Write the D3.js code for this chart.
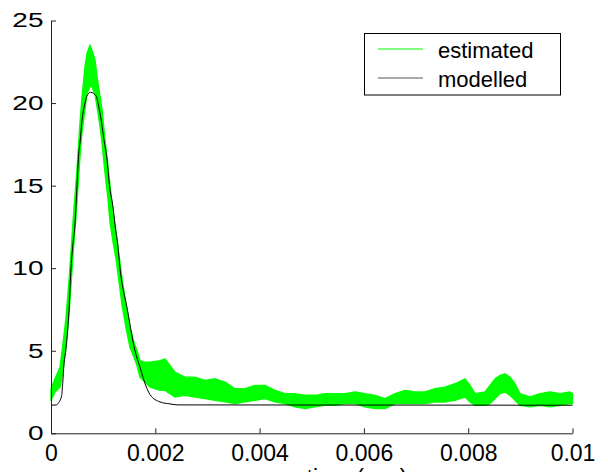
<!DOCTYPE html>
<html>
<head>
<meta charset="utf-8">
<script src="https://cdn.jsdelivr.net/npm/d3@7/dist/d3.min.js"></script>
<style>
  html, body { margin: 0; padding: 0; background: #fff; }
  svg { display: block; font-family: Arial, "Liberation Sans", sans-serif; }
</style>
</head>
<body>
<svg id="chart" width="608" height="472"></svg>
<script>
// ---- data (time in seconds) ----
const xTicks = [0, 0.002, 0.004, 0.006, 0.008, 0.01];
const xTickLabels = ["0", "0.002", "0.004", "0.006", "0.008", "0.01"];
const yTicks = [0, 5, 10, 15, 20, 25];
const yTickLabels = ["0", "5", "10", "15", "20", "25"];
const seriesNames = ["estimated", "modelled"];
const xLabel = "time (sec)";

const modelledTime = [0, 0.000109, 0.000134, 0.000205, 0.000224, 0.000249, 0.000282, 0.000345, 0.000384,
  0.000428, 0.000451, 0.000499, 0.000527, 0.000562, 0.000589, 0.000652, 0.000685, 0.000757,
  0.000872, 0.000901, 0.000972, 0.001016, 0.001068, 0.001122, 0.001189, 0.001241, 0.001271,
  0.001323, 0.001467, 0.001611, 0.001707, 0.001822, 0.001898, 0.00209, 0.002282, 0.002435, 0.01];
const modelledValue = [1.70, 1.72, 1.8, 2.3, 3.0, 4.2, 5.0, 7.45, 10.0,
  11.67, 12.3, 15.0, 16.75, 17.76, 18.77, 20.0, 20.4, 20.65,
  20.4, 20.0, 18.77, 17.76, 16.75, 15.0, 13.7, 12.3, 11.67,
  10.0, 7.45, 5.0, 4.0, 2.85, 2.35, 1.9, 1.78, 1.72, 1.70];

const estTime = [0, 0.000077, 0.000173, 0.00023, 0.000288, 0.000345, 0.000384, 0.000422, 0.000499,
  0.000556, 0.000594, 0.000652, 0.00069, 0.000748, 0.000786, 0.000844, 0.000882, 0.00094,
  0.000978, 0.001035, 0.001093, 0.001131, 0.001189, 0.001246, 0.001304, 0.001361, 0.001438,
  0.001515, 0.001592, 0.001649, 0.001706, 0.001802, 0.001898, 0.00209, 0.002186, 0.002378,
  0.002569, 0.002761, 0.002953, 0.003145, 0.003337, 0.003528, 0.00372, 0.003912, 0.004104,
  0.004295, 0.004487, 0.004679, 0.004871, 0.005062, 0.005254, 0.005446, 0.005638, 0.005829,
  0.006021, 0.006213, 0.006405, 0.006596, 0.006788, 0.00698, 0.007172, 0.007363, 0.007555,
  0.007747, 0.007939, 0.008035, 0.00813, 0.008322, 0.008418, 0.008514, 0.00861, 0.008706,
  0.008802, 0.008897, 0.008993, 0.009185, 0.009377, 0.009569, 0.00976, 0.009952, 0.01];
const estLow = [2.0, 2.5, 2.8, 3.8, 5.2, 7.2, 9.0, 10.8, 14.0,
  16.8, 18.2, 19.6, 20.6, 21.0, 21.0, 20.5, 19.8, 18.6,
  17.6, 15.8, 14.2, 12.8, 11.6, 10.6, 9.2, 7.8, 6.4,
  5.2, 4.6, 4.1, 3.4, 3.1, 2.8, 2.6, 2.6, 2.2,
  2.3, 2.2, 2.1, 2.0, 1.9, 1.8, 1.9, 2.0, 2.1,
  1.9, 1.8, 1.6, 1.5, 1.6, 1.7, 1.7, 1.8, 1.8,
  1.6, 1.5, 1.5, 1.8, 1.8, 1.8, 1.8, 1.9, 1.9,
  2.0, 2.2, 1.9, 1.7, 1.7, 1.8, 2.1, 2.4, 2.5,
  2.3, 2.0, 1.7, 1.6, 1.7, 1.6, 1.7, 1.8, 1.8];
const estHigh = [2.7, 3.3, 4.0, 5.4, 7.0, 9.2, 11.0, 12.8, 16.0,
  18.8, 20.3, 22.2, 23.0, 23.5, 23.2, 22.6, 21.6, 20.4,
  19.6, 17.8, 16.2, 15.0, 13.4, 12.2, 10.8, 9.4, 7.8,
  6.4, 5.5, 5.0, 4.4, 4.3, 4.3, 4.4, 4.5, 3.7,
  3.4, 3.4, 3.2, 3.3, 3.1, 2.7, 2.7, 2.9, 2.9,
  2.6, 2.4, 2.4, 2.3, 2.3, 2.4, 2.4, 2.4, 2.5,
  2.4, 2.3, 2.1, 2.4, 2.6, 2.5, 2.5, 2.7, 2.8,
  3.0, 3.3, 2.9, 2.4, 2.5, 2.9, 3.3, 3.5, 3.6,
  3.4, 3.0, 2.4, 2.2, 2.4, 2.5, 2.4, 2.5, 2.4];

// ---- drawing ----
const svg = d3.select("#chart");
const x = d3.scaleLinear().domain([0, 0.01]).range([51, 572.5]);
const y = d3.scaleLinear().domain([0, 25]).range([433.3, 20.5]);
const GREEN = "#00ff00";

// estimated (noise band)
const estData = estTime.map((t, i) => ({ t, lo: estLow[i], hi: estHigh[i] }));
const area = d3.area().x(d => x(d.t)).y0(d => y(d.lo)).y1(d => y(d.hi));
svg.append("path").datum(estData)
  .attr("d", area)
  .attr("fill", GREEN)
  .attr("stroke", GREEN)
  .attr("stroke-width", 1.4)
  .attr("stroke-linejoin", "round");

// modelled
const modData = modelledTime.map((t, i) => ({ t, v: modelledValue[i] }));
const line = d3.line().x(d => x(d.t)).y(d => y(d.v)).curve(d3.curveMonotoneX);
svg.append("path").datum(modData)
  .attr("d", line)
  .attr("fill", "none")
  .attr("stroke", "#000")
  .attr("stroke-width", 1);

// axes
const xAxis = d3.axisBottom(x).tickValues(xTicks)
  .tickFormat((d, i) => xTickLabels[i]).tickSizeInner(-5).tickSizeOuter(0).tickPadding(11.5);
const gx = svg.append("g").attr("transform", "translate(0,433.3)").call(xAxis);
gx.selectAll("text").attr("font-size", 23).attr("fill", "#000")
  .attr("font-family", "Arial, 'Liberation Sans', sans-serif");
gx.select(".domain").attr("stroke", "#222");
gx.selectAll(".tick line").attr("stroke", "#222");

const yAxis = d3.axisLeft(y).tickValues(yTicks)
  .tickFormat((d, i) => yTickLabels[i]).tickSizeInner(-5).tickSizeOuter(0).tickPadding(0);
const gy = svg.append("g").attr("transform", "translate(51,0)").call(yAxis);
gy.selectAll("text").attr("font-size", 20).attr("fill", "#000")
  .attr("font-family", "Arial, 'Liberation Sans', sans-serif")
  .attr("x", -7.5 / 1.4).attr("transform", "scale(1.4,1)");
gy.select(".domain").attr("stroke", "#222");
gy.selectAll(".tick line").attr("stroke", "#222");

// x label (partly clipped at the bottom edge, as in the reference)
svg.append("text").attr("x", 357).attr("y", 486).attr("text-anchor", "middle")
  .attr("font-size", 23).text(xLabel);

// legend
const lg = svg.append("g");
lg.append("rect").attr("x", 364.5).attr("y", 33.5).attr("width", 196).attr("height", 61.5)
  .attr("fill", "#fff").attr("stroke", "#000").attr("stroke-width", 1);
const legendColors = [GREEN, "#555"];
const legendY = [49, 78];
seriesNames.forEach((name, i) => {
  lg.append("line").attr("x1", 378).attr("x2", 423).attr("y1", legendY[i]).attr("y2", legendY[i])
    .attr("stroke", legendColors[i]).attr("stroke-width", 1);
  lg.append("text").attr("x", 438).attr("y", legendY[i] + 8.5).attr("font-size", 22)
    .attr("fill", "#000").text(name);
});
</script>
</body>
</html>
